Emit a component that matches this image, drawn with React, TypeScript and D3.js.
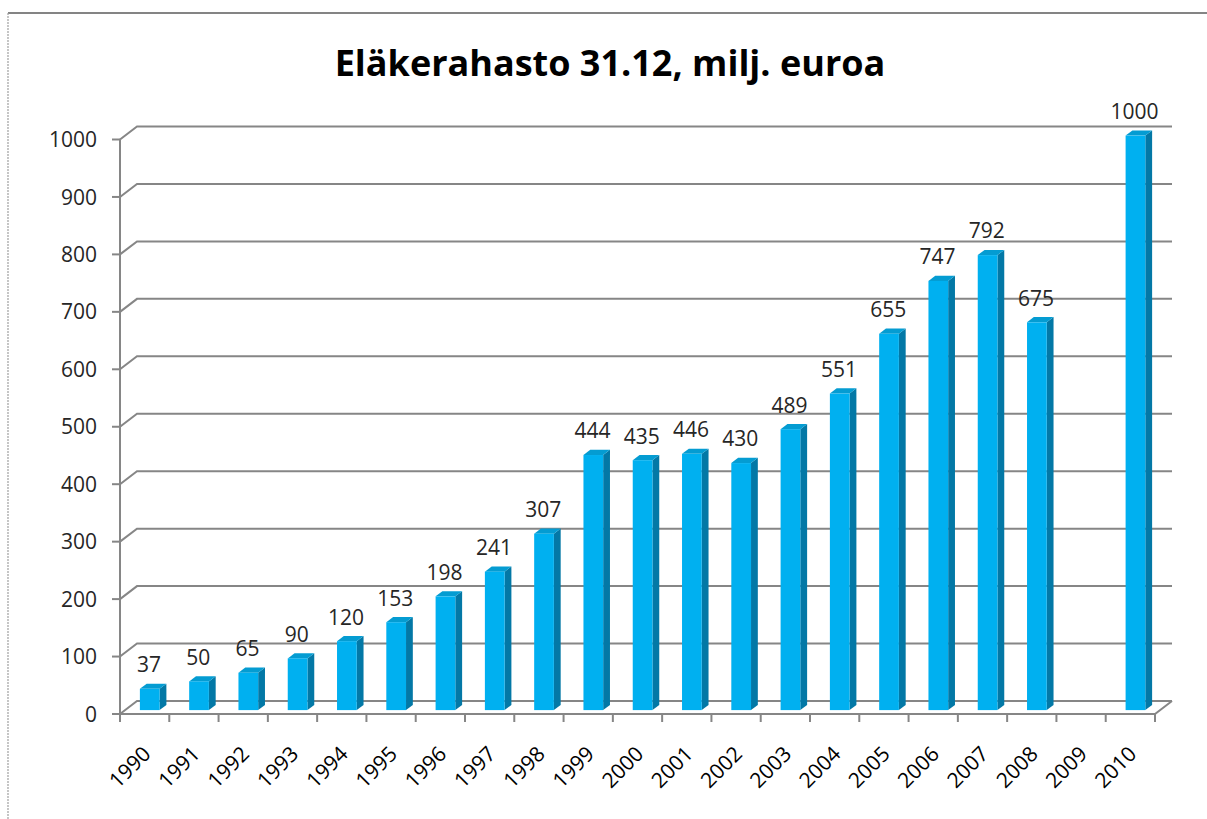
import React from 'react';
import * as d3 from 'd3';

const years = ['1990', '1991', '1992', '1993', '1994', '1995', '1996', '1997', '1998', '1999', '2000',
  '2001', '2002', '2003', '2004', '2005', '2006', '2007', '2008', '2009', '2010'];
const fund: (number | null)[] = [37, 50, 65, 90, 120, 153, 198, 241, 307, 444, 435,
  446, 430, 489, 551, 655, 747, 792, 675, null, 1000];
const yTicks = [0, 100, 200, 300, 400, 500, 600, 700, 800, 900, 1000];
const title = 'Eläkerahasto 31.12, milj. euroa';

const width = 1207, height = 819;
const DX = 17, DY = -13; // depth of the 3d box
const font = '"Open Sans", sans-serif';

export default function App() {
  const x = d3.scaleBand<string>().domain(years).range([120, 1155]);
  const y = d3.scaleLinear().domain([0, 1000]).range([714, 139.5]);
  const bw = x.bandwidth();
  const fw = bw * 0.4;

  const grid = '#868686';

  return (
    <svg width={width} height={height} style={{ position: 'absolute', left: 0, top: 0, background: '#fff' }}>
      {/* outer frame */}
      <line x1={8} y1={13} x2={width} y2={13} stroke="#848484" strokeWidth={2} />
      <line x1={8} y1={13} x2={8} y2={height} stroke="#a0a0a0" strokeWidth={1.2} strokeDasharray="2,1" />

      <text x={610} y={76} textAnchor="middle" fontFamily={font} fontWeight="bold" fontSize={36} fill="#000">
        {title}
      </text>

      {/* gridlines on the back wall and side wall */}
      {yTicks.map(t => (
        <g key={t}>
          <polyline
            points={`120,${y(t)} ${120 + DX},${y(t) + DY} ${1155 + DX},${y(t) + DY}`}
            fill="none" stroke={grid} strokeWidth={2} />
          <line x1={112} x2={120} y1={y(t)} y2={y(t)} stroke={grid} strokeWidth={2} />
          <text x={97} y={y(t)} dy="0.36em" textAnchor="end" fontFamily={font} fontSize={21} fill="#262626">{t}</text>
        </g>
      ))}
      {/* axes */}
      <line x1={120} x2={120} y1={y(0)} y2={y(1000)} stroke={grid} strokeWidth={2} />
      <polyline points={`120,${y(0)} 1155,${y(0)} ${1155 + DX},${y(0) + DY}`} fill="none" stroke={grid} strokeWidth={2} />
      {years.map(yr => (
        <line key={yr} x1={x(yr)} x2={x(yr)} y1={y(0)} y2={y(0) + 8} stroke={grid} strokeWidth={2} />
      ))}
      <line x1={1155} x2={1155} y1={y(0)} y2={y(0) + 8} stroke={grid} strokeWidth={2} />

      {/* bars */}
      {years.map((yr, i) => {
        const v = fund[i];
        if (v == null) return null;
        const xc = (x(yr) as number) + bw / 2;
        const L = xc - fw / 2 + 0.3 * DX;
        const R = L + fw;
        const top = y(v) + 0.3 * DY;
        const bot = y(0) + 0.3 * DY;
        const ddx = 0.4 * DX, ddy = 0.4 * DY;
        return (
          <g key={yr}>
            <polygon points={`${R},${top} ${R + ddx},${top + ddy} ${R + ddx},${bot + ddy} ${R},${bot}`} fill="#0378A6" />
            <polygon points={`${L},${top} ${L + ddx},${top + ddy} ${R + ddx},${top + ddy} ${R},${top}`} fill="#049CD2" />
            <rect x={L} y={top} width={fw} height={bot - top} fill="#00B0F0" />
            <text x={xc + 0.25 * DX} y={y(v) + 0.5 * DY - 14} textAnchor="middle" fontFamily={font} fontSize={21} fill="#262626">{v}</text>
          </g>
        );
      })}

      {/* category labels */}
      {years.map(yr => {
        const xc = (x(yr) as number) + bw / 2;
        return (
          <text key={yr} transform={`translate(${xc + 2},${750}) rotate(-45)`} textAnchor="end" dy="0.36em"
            fontFamily={font} fontSize={21} fill="#000">{yr}</text>
        );
      })}
    </svg>
  );
}
